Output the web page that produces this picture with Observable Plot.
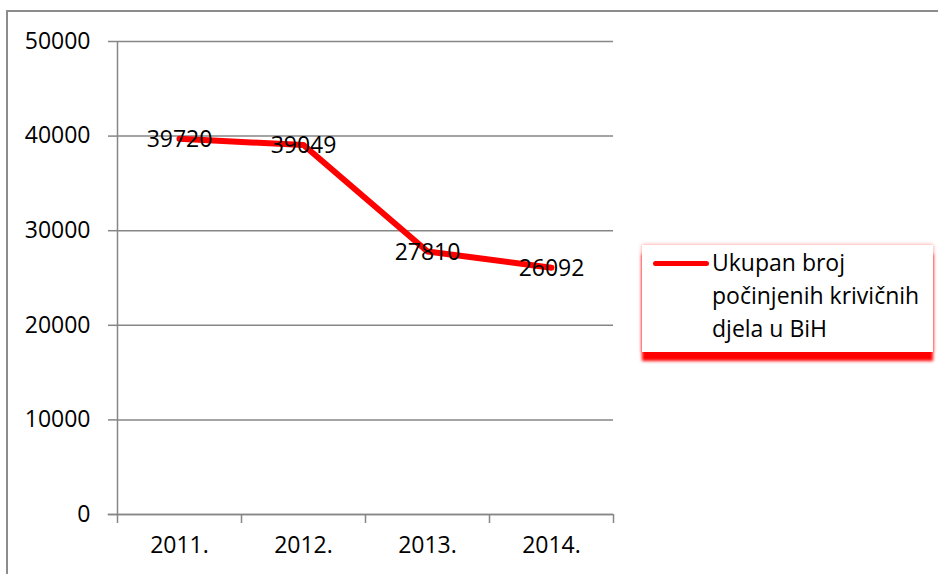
<!DOCTYPE html>
<html><head><meta charset="utf-8">
<script src="https://cdn.jsdelivr.net/npm/d3@7"></script>
<script src="https://cdn.jsdelivr.net/npm/@observablehq/plot@0.6"></script>
<style>
body{margin:0;background:#fff;}
#wrap{position:relative;width:938px;height:574px;overflow:hidden;font-family:"Open Sans",sans-serif;}
#frame{position:absolute;left:6px;top:10px;width:940px;height:580px;border-left:2px solid #8c8c8c;border-top:2px solid #8c8c8c;}
#legend{position:absolute;left:642px;top:245px;width:291px;height:107px;background:#fff;
 box-shadow:0 9px 3px #ff0000,0 0 4px rgba(255,0,0,0.45);}
#legend .sw{position:absolute;left:11px;top:16px;width:56px;height:5px;background:#ff0000;border-radius:3px;}
#legend .tx{position:absolute;left:70px;top:1px;font-size:23px;line-height:33px;color:#000;}
svg{position:absolute;left:0;top:0;}
</style></head>
<body><div id="wrap"><div id="frame"></div><div id="chart"></div>
<div id="legend"><div class="sw"></div><div class="tx">Ukupan broj<br>počinjenih krivičnih<br>djela u BiH</div></div>
</div>
<script>
const categories = ["2011.", "2012.", "2013.", "2014."];
const values = [39720, 39049, 27810, 26092];
const yTicks = [0, 10000, 20000, 30000, 40000, 50000];
const seriesName = "Ukupan broj počinjenih krivičnih djela u BiH";

const data = categories.map((c, i) => ({i, c, v: values[i]}));
const grid = "#868686";

const chart = Plot.plot({
  width: 938, height: 574,
  marginLeft: 117, marginRight: 325, marginTop: 41, marginBottom: 60,
  style: {fontFamily: "Open Sans, sans-serif", fontSize: "23px", color: "#000", background: "transparent", overflow: "visible"},
  x: {type: "linear", domain: [0, categories.length]},
  y: {domain: [0, 50000]},
  marks: [
    Plot.ruleY(yTicks, {stroke: grid, strokeWidth: 1.5}),
    Plot.ruleX([0], {stroke: grid, strokeWidth: 1.5}),
    Plot.axisY({ticks: yTicks, tickFormat: d => String(d), tickSize: 9, tickPadding: 18, stroke: grid, strokeWidth: 1.5, label: null, fontSize: 23}),
    Plot.axisX({ticks: d3.range(categories.length + 1), tickFormat: () => "", tickSize: 9, stroke: grid, strokeWidth: 1.5, label: null}),
    Plot.axisX({ticks: d3.range(categories.length).map(i => i + 0.5), tickFormat: t => categories[Math.floor(t)], tickSize: 0, tickPadding: 22, label: null, fontSize: 23}),
    Plot.ruleY([0], {x1: -0.075, x2: categories.length, stroke: grid, strokeWidth: 1.5}),
    Plot.line(data, {x: d => d.i + 0.5, y: "v", stroke: "#ff0000", strokeWidth: 6, strokeLinejoin: "round", strokeLinecap: "round"}),
    Plot.text(data, {x: d => d.i + 0.5, y: "v", text: d => String(d.v), fill: "#000", fontSize: 23, textAnchor: "middle", lineAnchor: "middle", dy: 1})
  ]
});
document.getElementById("chart").appendChild(chart);
</script>
</body></html>
